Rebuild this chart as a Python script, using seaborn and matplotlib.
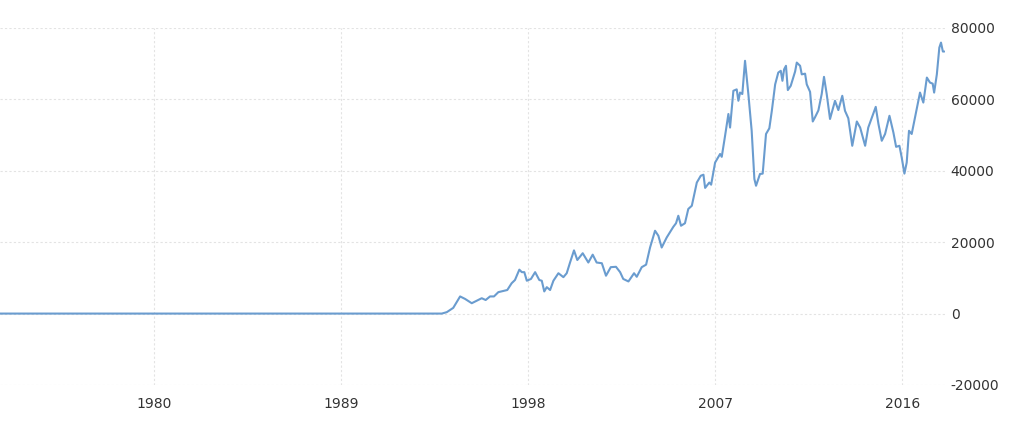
import pandas as pd
import matplotlib.pyplot as plt
import seaborn as sns

# Valores (anio decimal, indice)
anios = [1972.5, 1980.0, 1989.0, 1993.85, 1994.09, 1994.40, 1994.73, 1994.97, 1995.29,
         1995.53, 1995.77, 1995.96, 1996.17, 1996.36, 1996.57, 1997.00, 1997.21,
         1997.37, 1997.58, 1997.70, 1997.82, 1997.94, 1998.14, 1998.34, 1998.54,
         1998.66, 1998.78, 1998.90, 1999.06, 1999.22, 1999.46, 1999.70, 1999.86,
         2000.02, 2000.21, 2000.37, 2000.63, 2000.90, 2001.11, 2001.30, 2001.55,
         2001.75, 2001.98, 2002.23, 2002.43, 2002.58, 2002.83, 2003.10, 2003.23,
         2003.47, 2003.68, 2003.87, 2004.11, 2004.27, 2004.43, 2004.67, 2004.99,
         2005.12, 2005.23, 2005.36, 2005.55, 2005.71, 2005.88, 2006.12, 2006.31,
         2006.44, 2006.52, 2006.72, 2006.81, 2007.00, 2007.16, 2007.24, 2007.32,
         2007.48, 2007.64, 2007.72, 2007.88, 2008.04, 2008.12, 2008.20, 2008.31,
         2008.44, 2008.60, 2008.76, 2008.89, 2008.97, 2009.16, 2009.29, 2009.45,
         2009.61, 2009.73, 2009.89, 2010.04, 2010.16, 2010.24, 2010.32, 2010.41,
         2010.50, 2010.64, 2010.85, 2010.93, 2011.09, 2011.17, 2011.33, 2011.41,
         2011.57, 2011.70, 2011.81, 2011.97, 2012.13, 2012.24, 2012.37, 2012.53,
         2012.77, 2012.93, 2013.12, 2013.25, 2013.41, 2013.60, 2013.82, 2013.98,
         2014.22, 2014.37, 2014.59, 2014.73, 2014.86, 2015.02, 2015.18, 2015.39,
         2015.58, 2015.71, 2015.87, 2015.98, 2016.11, 2016.22, 2016.33, 2016.46,
         2016.70, 2016.86, 2017.02, 2017.19, 2017.34, 2017.47, 2017.54, 2017.67,
         2017.79, 2017.87, 2017.96, 2018.03]
valores = [0, 0, 0, 0, 400, 1600, 4800, 4100, 2900,
           3600, 4300, 3800, 4800, 4800, 6000, 6600, 8500,
           9400, 12300, 11600, 11600, 9200, 9700, 11600, 9400,
           9200, 6200, 7400, 6600, 9200, 11300, 10200, 11300,
           14300, 17700, 15000, 16900, 14300, 16500, 14300, 14100,
           10600, 13000, 13100, 11600, 9700, 9000, 11300, 10300,
           13000, 13700, 18500, 23200, 21800, 18500, 21300, 24300,
           25300, 27400, 24600, 25300, 29300, 30200, 36700, 38600,
           38900, 35200, 36700, 36100, 42300, 43900, 44700, 43900,
           49800, 55900, 52100, 62400, 62800, 59600, 61900, 61500,
           70800, 61500, 51200, 37700, 35800, 39100, 39200, 50300,
           51900, 56800, 64200, 67500, 68000, 65200, 68400, 69400,
           62600, 63800, 67800, 70300, 69400, 67000, 67200, 64200,
           62100, 53800, 55000, 56900, 61500, 66300, 61500, 54500,
           59600, 57000, 61000, 56800, 54700, 47000, 53800, 52100,
           47000, 52100, 55700, 57900, 53100, 48400, 50300, 55400,
           50700, 46700, 47000, 43700, 39200, 42300, 51200, 50300,
           57300, 61900, 59100, 66100, 64700, 64400, 61900, 67000,
           74500, 75900, 73400, 73400]

anios_ticks = [1980, 1989, 1998, 2007, 2016]
valores_ticks = [-20000, 0, 20000, 40000, 60000, 80000]

df = pd.DataFrame({'Anio': anios, 'Valor': valores})

sns.set_style('white')
plt.rcParams['font.family'] = ['DejaVu Sans']

fig = plt.figure(figsize=(10.24, 4.3), dpi=100)
ax = fig.add_axes([0.0, 0.1047, 0.923, 0.8303])

sns.lineplot(data=df, x='Anio', y='Valor', color='#6a9ccf', linewidth=1.5, ax=ax)

ax.set_xlim(1972.59, 2018.07)
ax.set_ylim(-20000, 80000)
ax.set_xticks(anios_ticks)
ax.set_xticklabels([str(a) for a in anios_ticks])
ax.set_yticks(valores_ticks)
ax.set_yticklabels([str(v) for v in valores_ticks])
ax.yaxis.tick_right()
ax.tick_params(axis='both', length=0, labelsize=10, colors='#333333')
ax.tick_params(axis='x', pad=9)
ax.tick_params(axis='y', pad=4)
ax.grid(True, color='#e3e3e3', linestyle=(0, (2, 2)), linewidth=0.8)
ax.set_xlabel('')
ax.set_ylabel('')
for lado in ax.spines.values():
    lado.set_visible(False)

plt.savefig('out.png', dpi=100)
